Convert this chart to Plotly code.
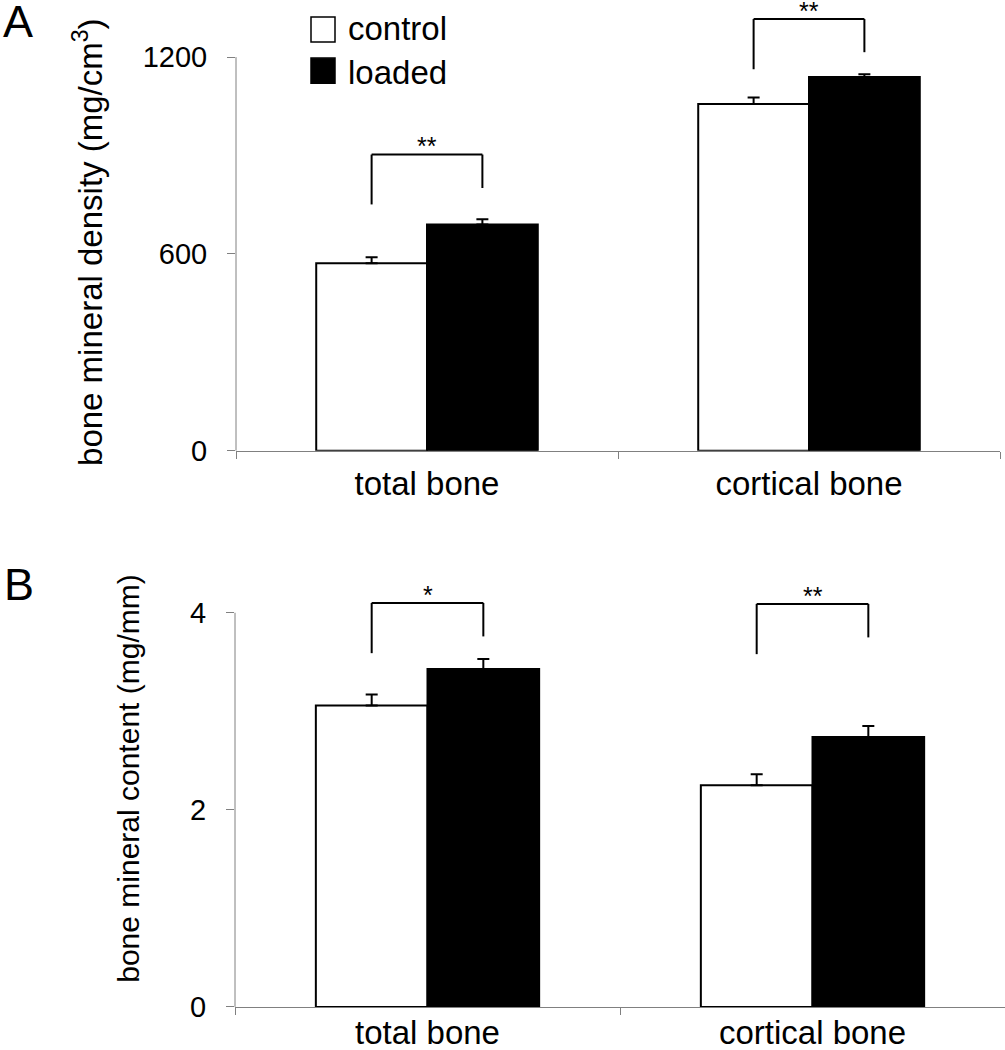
import plotly.graph_objects as go

W = 1005          # reference width (px)
H_REF = 1050      # reference height (px) used for all layout measurements
H_FIG = 1068      # figure height: the photographed page is squeezed to 1050 px tall
SY = H_FIG / H_REF
FONT = "Liberation Sans, Arial, sans-serif"
GRAY = "#808080"

# ---------------- data ----------------
categories = ["total bone", "cortical bone"]
group_names = ["control", "loaded"]

bmd_control = [572, 1057]
bmd_control_sem = [18, 20]
bmd_loaded = [690, 1139]
bmd_loaded_sem = [16, 9]

bmc_control = [3.06, 2.25]
bmc_control_sem = [0.11, 0.11]
bmc_loaded = [3.43, 2.74]
bmc_loaded_sem = [0.10, 0.11]

bmd_ticks = [0, 600, 1200]
bmc_ticks = [0, 2, 4]

bmd_sig = ["**", "**"]
bmc_sig = ["*", "**"]
# significance brackets (value space): top bar, left leg end, right leg end
bmd_bracket_top = [903, 1316]
bmd_bracket_left = [751, 1163]
bmd_bracket_right = [801, 1215]
bmc_bracket_top = [4.10, 4.09]
bmc_bracket_left = [3.59, 3.58]
bmc_bracket_right = [3.76, 3.75]


def px_x(p):
    return p / W


def px_y(p):
    return 1 - p / H_REF


BARGAP = 0.42
half_off = (1 - BARGAP) / 4  # offset of each bar centre from category centre

fig = go.Figure()

panels = [
    ("x", "y", bmd_control, bmd_control_sem, bmd_loaded, bmd_loaded_sem),
    ("x2", "y2", bmc_control, bmc_control_sem, bmc_loaded, bmc_loaded_sem),
]
for xa, ya, c, ce, l, le in panels:
    fig.add_trace(go.Bar(
        x=categories, y=c, name=group_names[0], xaxis=xa, yaxis=ya,
        marker=dict(color="white", line=dict(color="black", width=2)),
        error_y=dict(type="data", array=ce, arrayminus=[0] * len(ce), symmetric=False,
                     color="black", thickness=2, width=6),
        showlegend=False))
    fig.add_trace(go.Bar(
        x=categories, y=l, name=group_names[1], xaxis=xa, yaxis=ya,
        marker=dict(color="black", line=dict(color="black", width=2)),
        error_y=dict(type="data", array=le, arrayminus=[0] * len(le), symmetric=False,
                     color="black", thickness=2, width=6),
        showlegend=False))

shapes = []
annotations = []

# y axis lines only up to top tick
shapes.append(dict(type="line", xref="paper", yref="y", x0=px_x(236), x1=px_x(236),
                   y0=0, y1=bmd_ticks[-1], line=dict(color=GRAY, width=1)))
shapes.append(dict(type="line", xref="paper", yref="y2", x0=px_x(235), x1=px_x(235),
                   y0=0, y1=bmc_ticks[-1], line=dict(color=GRAY, width=1)))

# significance brackets
for xr, yr, tops, lefts, rights, sig in [
    ("x", "y", bmd_bracket_top, bmd_bracket_left, bmd_bracket_right, bmd_sig),
    ("x2", "y2", bmc_bracket_top, bmc_bracket_left, bmc_bracket_right, bmc_sig),
]:
    for i in range(len(categories)):
        xl, xr_ = i - half_off, i + half_off
        ln = dict(color="black", width=2)
        shapes.append(dict(type="line", xref=xr, yref=yr, x0=xl, x1=xr_, y0=tops[i], y1=tops[i], line=ln))
        shapes.append(dict(type="line", xref=xr, yref=yr, x0=xl, x1=xl, y0=lefts[i], y1=tops[i], line=ln))
        shapes.append(dict(type="line", xref=xr, yref=yr, x0=xr_, x1=xr_, y0=rights[i], y1=tops[i], line=ln))
        annotations.append(dict(xref=xr, yref=yr, x=i, y=tops[i], text=sig[i], showarrow=False,
                                xanchor="center", yanchor="middle", yshift=8 * SY,
                                font=dict(size=25, color="black", family=FONT)))

# legend (drawn manually)
shapes.append(dict(type="rect", xref="paper", yref="paper", x0=px_x(311), x1=px_x(335),
                   y0=px_y(42), y1=px_y(17), fillcolor="white", line=dict(color="black", width=1.5)))
shapes.append(dict(type="rect", xref="paper", yref="paper", x0=px_x(311), x1=px_x(335),
                   y0=px_y(83), y1=px_y(58), fillcolor="black", line=dict(color="black", width=1.5)))
annotations.append(dict(xref="paper", yref="paper", x=px_x(346), y=px_y(28.5), text=group_names[0],
                        showarrow=False, xanchor="left", yanchor="middle",
                        font=dict(size=33, color="black", family=FONT)))
annotations.append(dict(xref="paper", yref="paper", x=px_x(346), y=px_y(72), text=group_names[1],
                        showarrow=False, xanchor="left", yanchor="middle",
                        font=dict(size=33, color="black", family=FONT)))

# panel letters
annotations.append(dict(xref="paper", yref="paper", x=px_x(1), y=px_y(21), text="A",
                        showarrow=False, xanchor="left", yanchor="middle",
                        font=dict(size=45, color="black", family=FONT)))
annotations.append(dict(xref="paper", yref="paper", x=px_x(2), y=px_y(583.5), text="B",
                        showarrow=False, xanchor="left", yanchor="middle",
                        font=dict(size=45, color="black", family=FONT)))

# axis titles
annotations.append(dict(xref="paper", yref="paper", x=px_x(88.5), y=px_y(242),
                        text="bone mineral density (mg/cm<sup>3</sup>)", textangle=-90,
                        showarrow=False, xanchor="center", yanchor="middle",
                        font=dict(size=33, color="black", family=FONT)))
annotations.append(dict(xref="paper", yref="paper", x=px_x(128.3), y=px_y(777),
                        text="bone mineral content (mg/mm)", textangle=-90,
                        showarrow=False, xanchor="center", yanchor="middle",
                        font=dict(size=30, color="black", family=FONT)))

xaxis_common = dict(type="category", range=[-0.5, 1.5], showline=True, linecolor=GRAY, linewidth=1,
                    ticks="outside", tickson="boundaries", ticklen=round(7 * SY), tickcolor=GRAY,
                    tickwidth=1, showgrid=False, zeroline=False,
                    tickfont=dict(size=33, color="black", family=FONT))
yaxis_common = dict(showline=False, ticks="outside", ticklen=8, tickcolor=GRAY, tickwidth=1,
                    showgrid=False, zeroline=False, tickfont=dict(size=29, color="black", family=FONT))

fig.update_layout(
    width=W, height=H_FIG,
    margin=dict(l=0, r=0, t=0, b=0),
    paper_bgcolor="white", plot_bgcolor="white",
    barmode="group", bargap=BARGAP, bargroupgap=0,
    font=dict(family=FONT, color="black"),
    xaxis=dict(domain=[px_x(236), px_x(1000)], anchor="y", ticklabelstandoff=4, **xaxis_common),
    yaxis=dict(domain=[px_y(450), 1], anchor="x", range=[0, 450 / (196.5 / 600)],
               tickvals=bmd_ticks, ticklabelstandoff=14, **yaxis_common),
    xaxis2=dict(domain=[px_x(235), 1], anchor="y2", ticklabelstandoff=-4, **xaxis_common),
    yaxis2=dict(domain=[px_y(1005), px_y(560)], anchor="x2", range=[0, (1005 - 560) / (196.7 / 2)],
                tickvals=bmc_ticks, ticklabelstandoff=14, **yaxis_common),
    shapes=shapes,
    annotations=annotations,
)

# pin the figure to the top-left corner of the window
fig.write_html(
    "out.html",
    config={"displayModeBar": False},
    post_script=(
        "document.documentElement.style.margin='0';"
        "document.body.style.margin='0';document.body.style.overflow='hidden';"
        "var gd=document.getElementById('{plot_id}');"
        "gd.style.position='absolute';gd.style.left='0px';gd.style.top='0px';"
    ),
)
